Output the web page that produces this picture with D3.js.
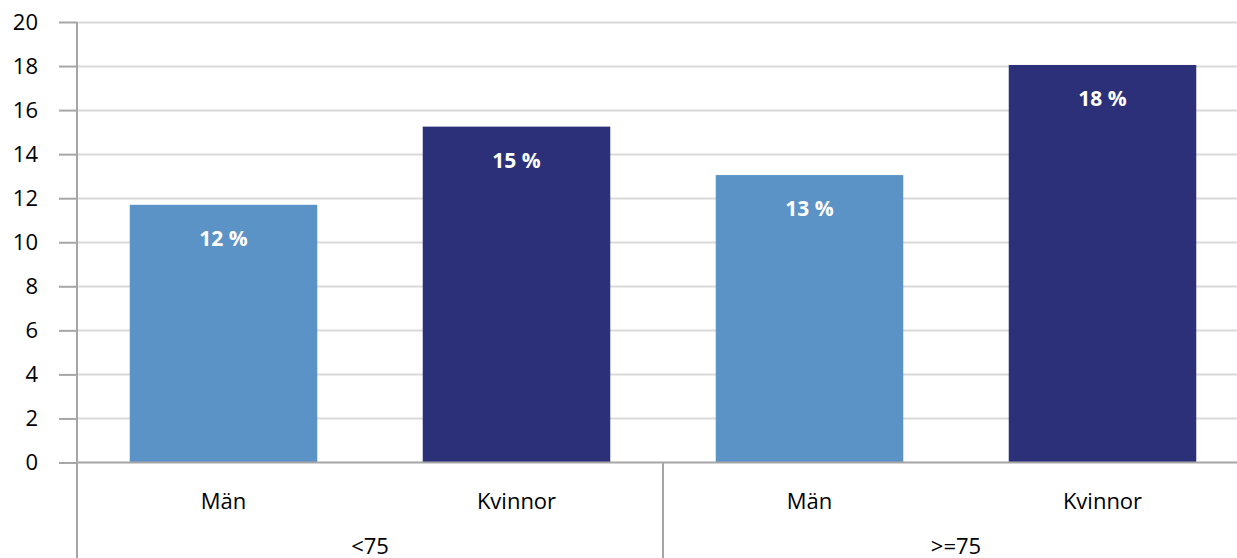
<!doctype html>
<html>
<head>
<meta charset="UTF-8">
<script src="https://d3js.org/d3.v7.min.js"></script>
<style>
  body { margin: 0; background: #fff; }
  svg { display: block; font-family: "Open Sans", sans-serif; }
</style>
</head>
<body>
<svg id="chart"></svg>
<script>
// data
const groups = ["<75", ">=75"];
const sexes = ["Män", "Kvinnor"];
const values = [11.7, 15.25, 13.05, 18.05];
const labels = ["12 %", "15 %", "13 %", "18 %"];
const yTicks = [0, 2, 4, 6, 8, 10, 12, 14, 16, 18, 20];

(function(){
  const W = 1237, H = 558;
  const margin = {top: 22, left: 77};
  const plotW = 1172, plotH = 440.5;

  const svg = d3.select("#chart").attr("width", W).attr("height", H);
  const g = svg.append("g").attr("transform", "translate(" + margin.left + "," + margin.top + ")");

  const rows = [];
  groups.forEach(function(gr, i){
    sexes.forEach(function(s, j){
      rows.push({key: gr + "|" + s, group: gr, sex: s, j: j, value: values[i * 2 + j], label: labels[i * 2 + j]});
    });
  });

  const x = d3.scaleBand().domain(rows.map(d => d.key)).range([0, plotW]).paddingInner(0.36).paddingOuter(0.18);
  const xg = d3.scaleBand().domain(groups).range([0, plotW]);
  const y = d3.scaleLinear().domain([0, 20]).range([plotH, 0]);

  // gridlines
  g.selectAll(".grid").data(yTicks.filter(t => t > 0)).enter().append("line")
    .attr("x1", 0).attr("x2", plotW)
    .attr("y1", d => Math.round(y(d)) + 0.5).attr("y2", d => Math.round(y(d)) + 0.5)
    .attr("stroke", "#d9d9d9").attr("stroke-width", 2);

  // bars
  g.selectAll(".bar").data(rows).enter().append("rect")
    .attr("x", d => x(d.key))
    .attr("y", d => y(d.value))
    .attr("width", x.bandwidth())
    .attr("height", d => plotH - y(d.value))
    .attr("fill", d => d.j === 0 ? "#5b93c6" : "#2c3079");

  g.selectAll(".lab").data(rows).enter().append("text")
    .attr("x", d => x(d.key) + x.bandwidth() / 2)
    .attr("y", d => y(d.value) + 33)
    .attr("text-anchor", "middle").attr("dominant-baseline", "central")
    .attr("fill", "#fff").attr("font-weight", "bold").attr("font-size", 21)
    .text(d => d.label);

  // y axis
  const yAxis = d3.axisLeft(y).tickValues(yTicks).tickSize(18).tickPadding(21);
  const ya = g.append("g").call(yAxis);
  ya.select(".domain").remove();
  ya.selectAll(".tick line").attr("stroke", "#a6a6a6").attr("stroke-width", 2);
  ya.selectAll(".tick text").attr("font-size", 22).attr("fill", "#000").attr("font-family", "Open Sans");

  g.append("line").attr("x1", 0).attr("x2", 0).attr("y1", 0).attr("y2", H - margin.top)
    .attr("stroke", "#a6a6a6").attr("stroke-width", 2);

  // zero line
  g.append("line").attr("x1", 0).attr("x2", plotW).attr("y1", plotH).attr("y2", plotH)
    .attr("stroke", "#a6a6a6").attr("stroke-width", 2);

  // category axis: sexes then groups
  g.selectAll(".sex").data(rows).enter().append("text")
    .attr("x", d => x(d.key) + x.bandwidth() / 2)
    .attr("y", plotH + 37)
    .attr("text-anchor", "middle").attr("dominant-baseline", "central")
    .attr("font-size", 22).attr("fill", "#000")
    .text(d => d.sex);

  g.selectAll(".div").data(groups.slice(1)).enter().append("line")
    .attr("x1", d => xg(d)).attr("x2", d => xg(d))
    .attr("y1", plotH).attr("y2", H - margin.top)
    .attr("stroke", "#a6a6a6").attr("stroke-width", 2);

  g.selectAll(".grp").data(groups).enter().append("text")
    .attr("x", d => xg(d) + xg.bandwidth() / 2)
    .attr("y", plotH + 82)
    .attr("text-anchor", "middle").attr("dominant-baseline", "central")
    .attr("font-size", 22).attr("fill", "#000")
    .text(d => d);
})();
</script>
</body>
</html>
